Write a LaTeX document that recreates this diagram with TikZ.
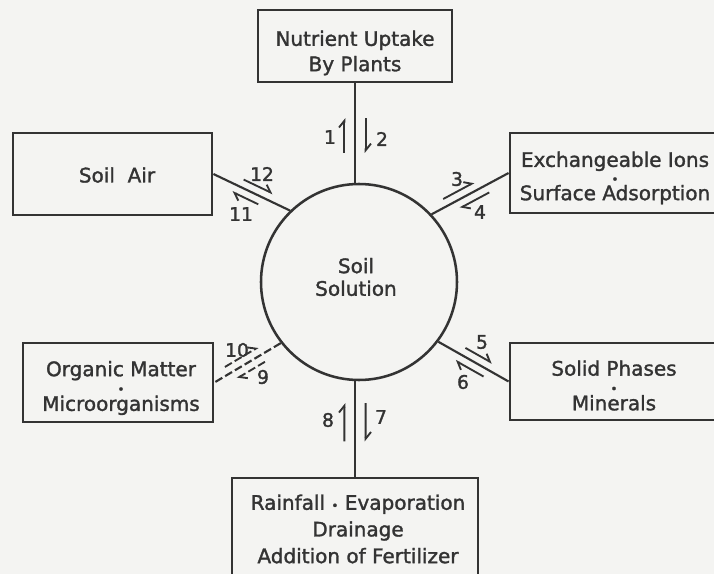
\documentclass[tikz,border=0pt]{standalone}
\usepackage{fontspec}
\setmainfont{DejaVu Sans}
\newfontfamily\diagfont{DejaVu Sans}[FakeBold=1.5]
\usetikzlibrary{calc,arrows.meta}
\definecolor{ink}{HTML}{333333}
\definecolor{paper}{HTML}{F4F4F2}
\newcommand\myharp[6][]{\draw[harp,#1] ($(#2)!#4!(#3)!#6!90:(#3)$) -- ($(#2)!#5!(#3)!#6!90:(#3)$);}
\newcommand\sep{{\fontsize{9}{9}\selectfont •}}
\begin{document}
\begin{tikzpicture}[x=0.75pt,y=-0.75pt,
  frame/.style={draw=ink, line width=2.1pt, rectangle, inner sep=0pt},
  txt/.style={align=center, text=ink, inner sep=0pt, font=\diagfont\fontsize{15}{19}\selectfont},
  conn/.style={draw=ink, line width=1.6pt},
  harp/.style={draw=ink, line width=1.4pt, -{Straight Barb[harpoon,length=5pt,width=8pt]}},
  broken/.style={dash pattern=on 6pt off 2.5pt},
  num/.style={text=ink, font=\diagfont\fontsize{14}{14}\selectfont, inner sep=0pt}]
\useasboundingbox (0,0) rectangle (714,574);
\clip (0,0) rectangle (714,574);
\fill[paper] (0,0) rectangle (714,574);
% boxes
\node[frame, minimum width=145.5pt, minimum height=54pt] (top) at (355,46) {};
\node[frame, minimum width=149.25pt, minimum height=61.5pt] (air) at (112.5,174) {};
\node[frame, minimum width=157.5pt, minimum height=60pt] (exch) at (615,173) {};
\node[frame, minimum width=142.5pt, minimum height=59.25pt] (org) at (118,382.5) {};
\node[frame, minimum width=157.5pt, minimum height=57.75pt] (solid) at (615,381.5) {};
\node[frame, minimum width=184.5pt, minimum height=75pt] (bot) at (355,528) {};
% texts
\node[txt] (topT) at (355,53) {Nutrient Uptake\\By Plants};
\node[txt] (airT) at (117,175) {Soil\ \ Air};
\node[txt] (exchT) at (615,178) {Exchangeable Ions\\[-6.5pt]\sep\\[-6.5pt]Surface Adsorption};
\node[txt] (orgT) at (121,388) {Organic Matter\\[-6pt]\sep\\[-6pt]Microorganisms};
\node[txt] (solidT) at (614,385.5) {Solid Phases\\[-6pt]\sep\\[-6pt]Minerals};
\node[txt] (botT) at (358,529) {Rainfall \sep{} Evaporation\\[1pt]Drainage\\[1pt]Addition of Fertilizer};
% circle
\node[draw=ink, line width=1.9pt, circle, minimum size=147pt, inner sep=0pt] (circ) at (359,282) {};
\node[txt, font=\diagfont\fontsize{15}{17}\selectfont] (circT) at (356,277) {Soil\\Solution};
% connectors
\coordinate (tB) at (top.south |- circ.north);
\coordinate (bA) at (bot.north |- circ.south);
\draw[conn] (top.south) -- (tB);
\draw[conn] (bA) -- (bot.north);
\draw[conn] (air.east) -- (circ.134);
\draw[conn] (circ.43) -- (exch.west);
\draw[conn] (circ.323) -- (solid.west);
\draw[conn, broken] (circ.218) -- (org.east);
% arrows
\myharp{top.south}{tB}{0.35}{0.70}{8pt}
\myharp{tB}{top.south}{0.30}{0.65}{8pt}
\myharp{bA}{bot.north}{0.23}{0.63}{8pt}
\myharp{bot.north}{bA}{0.37}{0.77}{8pt}
\myharp{air.east}{circ.134}{0.35}{0.73}{6pt}
\myharp{circ.134}{air.east}{0.37}{0.71}{6pt}
\myharp{circ.43}{exch.west}{0.2}{0.6}{6pt}
\myharp{exch.west}{circ.43}{0.3}{0.68}{6pt}
\myharp{circ.323}{solid.west}{0.33}{0.71}{6pt}
\myharp{solid.west}{circ.323}{0.3}{0.7}{6pt}
\myharp[broken]{circ.218}{org.east}{0.3}{0.72}{6pt}
\myharp[broken]{org.east}{circ.218}{0.22}{0.72}{6pt}
% numbers
\node[num] (n1) at (330,137) {1};
\node[num] (n2) at (382,139) {2};
\node[num] (n8) at (328,420) {8};
\node[num] (n7) at (381,417) {7};
\node[num] (n12) at (262,174) {12};
\node[num] (n11) at (241,214) {11};
\node[num] (n3) at (457,179) {3};
\node[num] (n4) at (480,212) {4};
\node[num] (n5) at (482,342) {5};
\node[num] (n6) at (463,382) {6};
\node[num] (n10) at (237,350) {10};
\node[num] (n9) at (263,377) {9};
\end{tikzpicture}
\end{document}
